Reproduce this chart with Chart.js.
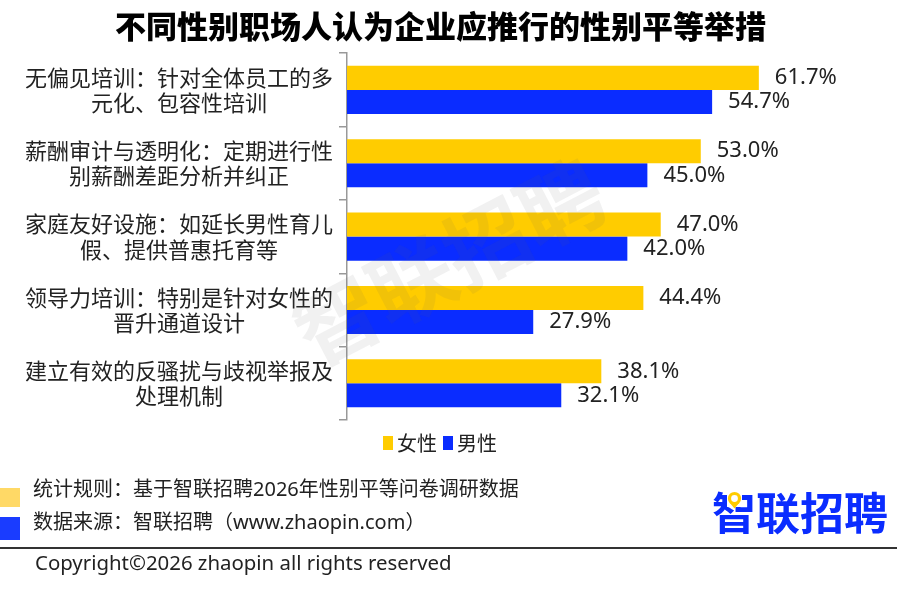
<!DOCTYPE html>
<html>
<head>
<meta charset="utf-8">
<script src="https://cdn.jsdelivr.net/npm/chart.js@4.4.1/dist/chart.umd.min.js"></script>
<style>
  html, body { margin: 0; padding: 0; background: #fff; }
  #wrap { width: 900px; height: 596px; position: relative; }
</style>
</head>
<body>
<div id="wrap"><canvas id="chart"></canvas></div>
<script>
// Data
const categories = [
  ["无偏见培训：针对全体员工的多", "元化、包容性培训"],
  ["薪酬审计与透明化：定期进行性", "别薪酬差距分析并纠正"],
  ["家庭友好设施：如延长男性育儿", "假、提供普惠托育等"],
  ["领导力培训：特别是针对女性的", "晋升通道设计"],
  ["建立有效的反骚扰与歧视举报及", "处理机制"]
];
const womenValues = [61.7, 53.0, 47.0, 44.4, 38.1];
const menValues = [54.7, 45.0, 42.0, 27.9, 32.1];
const seriesNames = ["女性", "男性"];

const YELLOW = "#FFCC00";
const BLUE = "#0A2CFF";
const CJK = '"Noto Sans CJK SC", sans-serif';
const LATIN = '"Noto Sans", "Noto Sans CJK SC", sans-serif';

// value labels at the end of each bar
const valueLabels = {
  id: "valueLabels",
  afterDatasetsDraw(chart) {
    const ctx = chart.ctx;
    ctx.save();
    ctx.font = "22px " + LATIN;
    ctx.fillStyle = "#222";
    ctx.textAlign = "left";
    ctx.textBaseline = "middle";
    chart.data.datasets.forEach((ds, di) => {
      const meta = chart.getDatasetMeta(di);
      meta.data.forEach((bar, i) => {
        ctx.fillText(ds.data[i].toFixed(1) + "%", bar.x + 16, bar.y);
      });
    });
    ctx.restore();
  }
};

// faint watermark, legend and footer
const decorations = {
  id: "decorations",
  afterDraw(chart) {
    const ctx = chart.ctx;
    ctx.save();

    // watermark
    ctx.save();
    ctx.translate(449, 262);
    ctx.rotate(-0.48);
    ctx.font = "bold 84px " + CJK;
    ctx.fillStyle = "rgba(90,90,90,0.085)";
    ctx.textAlign = "center";
    ctx.textBaseline = "middle";
    ctx.fillText("智联招聘", 0, 0);
    ctx.restore();

    // legend
    ctx.font = "20px " + CJK;
    ctx.textBaseline = "middle";
    ctx.textAlign = "left";
    let x = 383;
    const ly = 443;
    chart.data.datasets.forEach(ds => {
      ctx.fillStyle = ds.backgroundColor;
      ctx.fillRect(x, ly - 7, 10, 14);
      x += 14;
      ctx.fillStyle = "#222";
      ctx.fillText(ds.label, x, ly);
      x += ctx.measureText(ds.label).width + 6;
    });

    // footer notes
    ctx.fillStyle = "#FFD966";
    ctx.fillRect(0, 488, 20, 19);
    ctx.fillStyle = "#1A3CFF";
    ctx.fillRect(0, 517, 20, 23);
    ctx.fillStyle = "#222";
    ctx.font = "20px " + LATIN;
    ctx.fillText("统计规则：基于智联招聘2026年性别平等问卷调研数据", 33, 490);
    ctx.fillText("数据来源：智联招聘（www.zhaopin.com）", 33, 523);

    // logo
    ctx.font = "bold 44px " + CJK;
    ctx.fillStyle = BLUE;
    ctx.fillText("智联招聘", 712, 513);
    ctx.fillStyle = "#fff";
    ctx.fillRect(727, 492, 15, 15);
    ctx.strokeStyle = YELLOW;
    ctx.lineWidth = 3.2;
    ctx.beginPath();
    ctx.arc(734.5, 498.5, 5, 0, Math.PI * 2);
    ctx.stroke();
    ctx.fillStyle = YELLOW;
    ctx.beginPath();
    ctx.moveTo(730, 503);
    ctx.lineTo(739, 503);
    ctx.lineTo(734.5, 508.5);
    ctx.closePath();
    ctx.fill();

    // separator and copyright
    ctx.strokeStyle = "#333";
    ctx.lineWidth = 2;
    ctx.beginPath();
    ctx.moveTo(0, 548);
    ctx.lineTo(897, 548);
    ctx.stroke();
    ctx.fillStyle = "#222";
    ctx.font = "20.4px " + LATIN;
    ctx.fillText("Copyright©2026 zhaopin all rights reserved", 35, 564);

    ctx.restore();
  }
};

new Chart(document.getElementById("chart"), {
  type: "bar",
  data: {
    labels: categories,
    datasets: [
      { label: seriesNames[0], data: womenValues, backgroundColor: YELLOW },
      { label: seriesNames[1], data: menValues, backgroundColor: BLUE }
    ]
  },
  options: {
    indexAxis: "y",
    responsive: true,
    maintainAspectRatio: false,
    animation: false,
    categoryPercentage: 0.655,
    barPercentage: 1,
    layout: { padding: { top: 0, bottom: 176, left: 0, right: 19 } },
    plugins: {
      legend: { display: false },
      tooltip: { enabled: false },
      title: {
        display: true,
        text: "不同性别职场人认为企业应推行的性别平等举措",
        color: "#000",
        font: { family: CJK, size: 31, weight: "900", lineHeight: 1.2 },
        padding: { top: 8, bottom: 8 }
      }
    },
    scales: {
      x: { display: false, min: 0, max: 80 },
      y: {
        afterFit(scale) { scale.width = 347; },
        border: { display: true, color: "#999", width: 1.5 },
        grid: {
          offset: true,
          drawOnChartArea: false,
          drawTicks: true,
          tickLength: 8,
          color: "#999",
          lineWidth: 1.5
        },
        ticks: {
          crossAlign: "center",
          padding: 6,
          color: "#222",
          font: { family: CJK, size: 22, lineHeight: 1.15 }
        }
      }
    }
  },
  plugins: [valueLabels, decorations]
});
</script>
</body>
</html>
